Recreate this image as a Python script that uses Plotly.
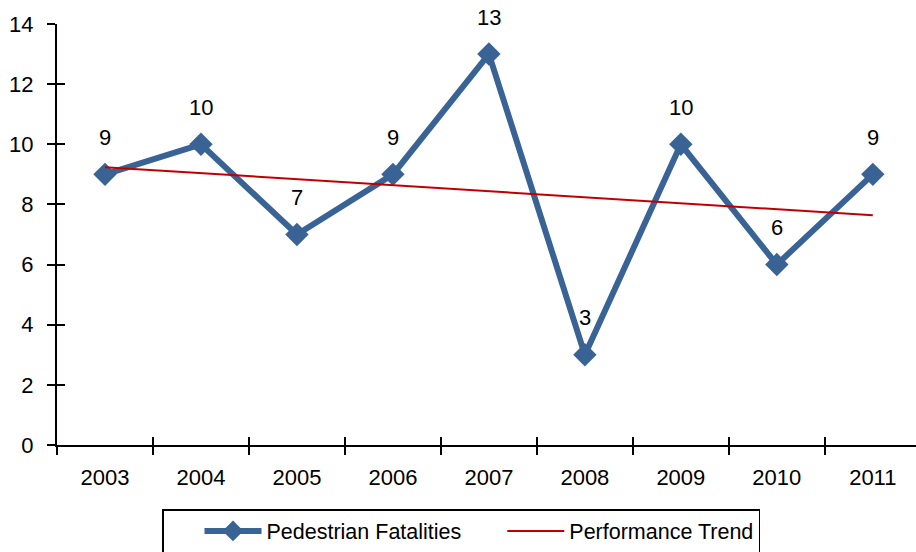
import plotly.graph_objects as go

# Annual pedestrian fatalities
years = ["2003", "2004", "2005", "2006", "2007", "2008", "2009", "2010", "2011"]
fatalities = [9, 10, 7, 9, 13, 3, 10, 6, 9]

# Linear performance trend, first and last year values
trend_years = ["2003", "2011"]
trend_values = [9.24, 7.64]

y_ticks = [0, 2, 4, 6, 8, 10, 12, 14]

FONT = "Liberation Sans Narrow, Arial Narrow, Liberation Sans, Arial, sans-serif"
FS = 22
BLUE = "#3A6395"
RED = "#C00000"

fig = go.Figure()

fig.add_trace(go.Scatter(
    x=years, y=fatalities, name="Pedestrian Fatalities",
    mode="lines+markers",
    line=dict(color=BLUE, width=6),
    marker=dict(symbol="diamond", size=18, color=BLUE),
    hoverinfo="x+y",
))
fig.add_trace(go.Scatter(
    x=trend_years, y=trend_values, name="Performance Trend",
    mode="lines",
    line=dict(color=RED, width=2),
    hoverinfo="skip",
))
# carrier for the inner half of the cross-shaped tick marks
fig.add_trace(go.Scatter(
    x=years, y=fatalities, xaxis="x2", yaxis="y2",
    mode="markers", marker=dict(opacity=0), showlegend=False, hoverinfo="skip",
))

# value labels above each point (category index keeps numeric-looking names on their slot)
for i, v in enumerate(fatalities):
    fig.add_annotation(x=i, y=v, text=str(v), showarrow=False, yshift=37,
                       font=dict(family=FONT, size=FS, color="black"))

axis_common = dict(showgrid=False, zeroline=False, linecolor="black", linewidth=2,
                   tickcolor="black", tickwidth=2, ticklen=8)

fig.update_layout(
    width=916, height=552,
    margin=dict(l=57, r=0, t=24, b=107),
    paper_bgcolor="white", plot_bgcolor="white",
    font=dict(family=FONT, size=FS, color="black"),
    xaxis=dict(type="category", categoryorder="array", categoryarray=years,
               range=[-0.5, 8.45], tickson="boundaries", ticks="outside",
               showline=True, ticklabelstandoff=12, **axis_common),
    yaxis=dict(range=[0, 14], tickvals=y_ticks, ticks="outside", showline=True,
               ticklabelstandoff=9, **axis_common),
    xaxis2=dict(type="category", categoryorder="array", categoryarray=years,
                range=[-0.5, 8.45], tickson="boundaries", ticks="inside",
                overlaying="x", anchor="y2", showticklabels=False, showline=False,
                **axis_common),
    yaxis2=dict(range=[0, 14], tickvals=y_ticks, ticks="inside", overlaying="y",
                anchor="x2", side="left", showticklabels=False, showline=False,
                **axis_common),
    legend=dict(orientation="h", xref="container", yref="container",
                x=162 / 916, xanchor="left", y=43 / 552, yanchor="top",
                bordercolor="black", borderwidth=1.5, bgcolor="white",
                itemwidth=57, indentation=36,
                font=dict(family=FONT, size=21.5)),
    showlegend=True,
)

fig.write_html("out.html")
